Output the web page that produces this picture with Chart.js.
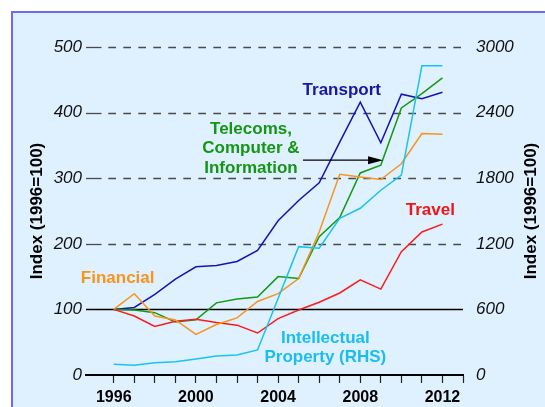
<!DOCTYPE html>
<html lang="en">
<head>
<meta charset="utf-8">
<script src="https://cdn.jsdelivr.net/npm/chart.js@4.4.1/dist/chart.umd.min.js"></script>
<style>
  html, body { margin: 0; padding: 0; background: #ffffff; }
  #caja { width: 545px; height: 407px; }
</style>
</head>
<body>
<div id="caja"><canvas id="grafico" width="545" height="407"></canvas></div>
<script>
// datos (indices 1996=100; propiedad intelectual en el eje derecho)
const anios = [1996, 1997, 1998, 1999, 2000, 2001, 2002, 2003, 2004, 2005, 2006, 2007, 2008, 2009, 2010, 2011, 2012];
const transporte = [100, 103, 123, 146, 165, 167, 173, 190, 235, 266, 293, 355, 416, 354, 428, 421, 431];
const telecom = [100, 99, 95, 81, 84, 110, 116, 119, 150, 147, 211, 240, 308, 320, 407, 429, 453];
const financiero = [100, 124, 90, 84, 62, 77, 87, 112, 124, 147, 218, 306, 302, 298, 322, 368, 367];
const viajes = [100, 90, 74, 82, 85, 80, 76, 64, 86, 99, 111, 125, 145, 131, 188, 218, 230];
const propiedadIntelectual = [98, 89, 113, 122, 146, 174, 183, 229, 700, 1174, 1159, 1433, 1525, 1690, 1829, 2829, 2829];

const ticksAnios = [...anios, 2013];
const etiquetasAnios = [1996, 2000, 2004, 2008, 2012];
const ticksIzq = [0, 100, 200, 300, 400, 500];
const ticksDer = [0, 600, 1200, 1800, 2400, 3000];
const lineaBase = 100;
const tituloEje = 'Index (1996=100)';

const anotaciones = [
  { lineas: ['Transport'], color: '#1616a6', x: 2007.1, y: 434 },
  { lineas: ['Telecoms,', 'Computer &', 'Information'], color: '#149614', x: 2002.68, y: 375 },
  { lineas: ['Travel'], color: '#f01414', x: 2011.41, y: 251 },
  { lineas: ['Financial'], color: '#f7941d', x: 1996.19, y: 147 },
  { lineas: ['Intellectual', 'Property (RHS)'], color: '#19bdf0', x: 2006.3, y: 56 }
];
const flecha = { desde: 2005.21, hasta: 2009.11, valor: 327.5 };

const fuente = '"Liberation Sans", Arial, Helvetica, sans-serif';

const fondo = {
  id: 'fondo',
  beforeDraw(chart) {
    const c = chart.ctx;
    c.save();
    c.fillStyle = '#ffffff';
    c.fillRect(0, 0, chart.width, chart.height);
    c.fillStyle = '#dff0fe';
    c.fillRect(12, 12, chart.width - 12, chart.height - 12);
    c.strokeStyle = '#6a6af4';
    c.lineWidth = 2;
    c.beginPath();
    c.moveTo(12, chart.height);
    c.lineTo(12, 12);
    c.lineTo(chart.width, 12);
    c.stroke();
    c.restore();
  }
};

const guias = {
  id: 'guias',
  beforeDatasetsDraw(chart) {
    const c = chart.ctx, a = chart.chartArea, y = chart.scales.y;
    c.save();
    y.ticks.forEach(t => {
      if (t.value === 0) return;
      const py = Math.round(y.getPixelForValue(t.value)) + 0.5;
      c.setLineDash([]);
      if (t.value === lineaBase) {
        c.strokeStyle = '#000';
        c.lineWidth = 1.5;
        c.beginPath(); c.moveTo(a.left, py); c.lineTo(a.right, py); c.stroke();
        return;
      }
      c.strokeStyle = '#4a4a4a';
      c.lineWidth = 1.3;
      c.beginPath(); c.moveTo(a.left, py); c.lineTo(a.left + 15.5, py); c.stroke();
      c.setLineDash([7.7, 7.3]);
      c.beginPath(); c.moveTo(a.left + 22.3, py); c.lineTo(a.right, py); c.stroke();
    });
    c.restore();
  }
};

const textos = {
  id: 'textos',
  afterDatasetsDraw(chart) {
    const c = chart.ctx, a = chart.chartArea, xs = chart.scales.x, y = chart.scales.y;
    c.save();
    // titulos de los ejes
    c.fillStyle = '#000';
    c.font = 'bold 17px ' + fuente;
    c.textAlign = 'center';
    c.textBaseline = 'middle';
    const cy = (a.top + a.bottom) / 2;
    [37, 531].forEach(px => {
      c.save();
      c.translate(px, cy);
      c.rotate(-Math.PI / 2);
      c.fillText(tituloEje, 0, 0);
      c.restore();
    });
    // etiquetas de las series
    anotaciones.forEach(an => {
      c.fillStyle = an.color;
      const px = xs.getPixelForValue(an.x);
      const py = y.getPixelForValue(an.y);
      an.lineas.forEach((t, i) => c.fillText(t, px, py + i * 19.5));
    });
    // flecha
    const x0 = xs.getPixelForValue(flecha.desde);
    const x1 = xs.getPixelForValue(flecha.hasta);
    const fy = y.getPixelForValue(flecha.valor);
    c.strokeStyle = '#000';
    c.fillStyle = '#000';
    c.lineWidth = 1.3;
    c.beginPath(); c.moveTo(x0, fy); c.lineTo(x1 - 10, fy); c.stroke();
    c.beginPath();
    c.moveTo(x1, fy); c.lineTo(x1 - 15, fy - 4); c.lineTo(x1 - 15, fy + 4);
    c.closePath(); c.fill();
    c.restore();
  }
};

const puntos = serie => anios.map((a, i) => ({ x: a, y: serie[i] }));

const ctx = document.getElementById('grafico').getContext('2d');
const chart = new Chart(ctx, {
  type: 'line',
  data: {
    datasets: [
      { label: 'Intellectual Property (RHS)', data: puntos(propiedadIntelectual), yAxisID: 'y1', borderColor: '#19c2f0' },
      { label: 'Financial', data: puntos(financiero), yAxisID: 'y', borderColor: '#f7941d' },
      { label: 'Travel', data: puntos(viajes), yAxisID: 'y', borderColor: '#ff1a1a' },
      { label: 'Telecoms, Computer & Information', data: puntos(telecom), yAxisID: 'y', borderColor: '#139a13' },
      { label: 'Transport', data: puntos(transporte), yAxisID: 'y', borderColor: '#1414b4' }
    ]
  },
  options: {
    responsive: false,
    animation: false,
    layout: { padding: { top: 47, left: 0, right: 0, bottom: 0 } },
    plugins: { legend: { display: false }, tooltip: { enabled: false } },
    elements: { point: { radius: 0 }, line: { tension: 0, borderWidth: 1.5, fill: false } },
    scales: {
      x: {
        type: 'linear',
        min: 1994.65,
        max: 2013,
        afterBuildTicks: s => { s.ticks = ticksAnios.map(v => ({ value: v })); },
        afterFit: s => { s.height = 32; },
        grid: { display: true, drawOnChartArea: false, drawTicks: true, tickLength: 8, tickColor: '#222', tickWidth: 1.2 },
        border: { display: true, color: '#000', width: 2 },
        ticks: {
          autoSkip: false,
          maxRotation: 0,
          padding: 5,
          color: '#000',
          font: { family: fuente, size: 16, weight: 'bold' },
          callback: v => etiquetasAnios.includes(v) ? String(v) : ''
        }
      },
      y: {
        position: 'left',
        min: ticksIzq[0],
        max: ticksIzq[ticksIzq.length - 1],
        afterBuildTicks: s => { s.ticks = ticksIzq.map(v => ({ value: v })); },
        afterFit: s => { s.width = 86; },
        grid: { display: false, drawTicks: false },
        border: { display: false },
        ticks: { padding: 4, color: '#111', font: { family: fuente, size: 17, style: 'italic' }, callback: v => String(v) }
      },
      y1: {
        position: 'right',
        min: ticksDer[0],
        max: ticksDer[ticksDer.length - 1],
        afterBuildTicks: s => { s.ticks = ticksDer.map(v => ({ value: v })); },
        afterFit: s => { s.width = 82; },
        grid: { display: false, drawTicks: false },
        border: { display: false },
        ticks: { padding: 13, color: '#111', font: { family: fuente, size: 17, style: 'italic' }, callback: v => String(v) }
      }
    }
  },
  plugins: [fondo, guias, textos]
});
</script>
</body>
</html>
